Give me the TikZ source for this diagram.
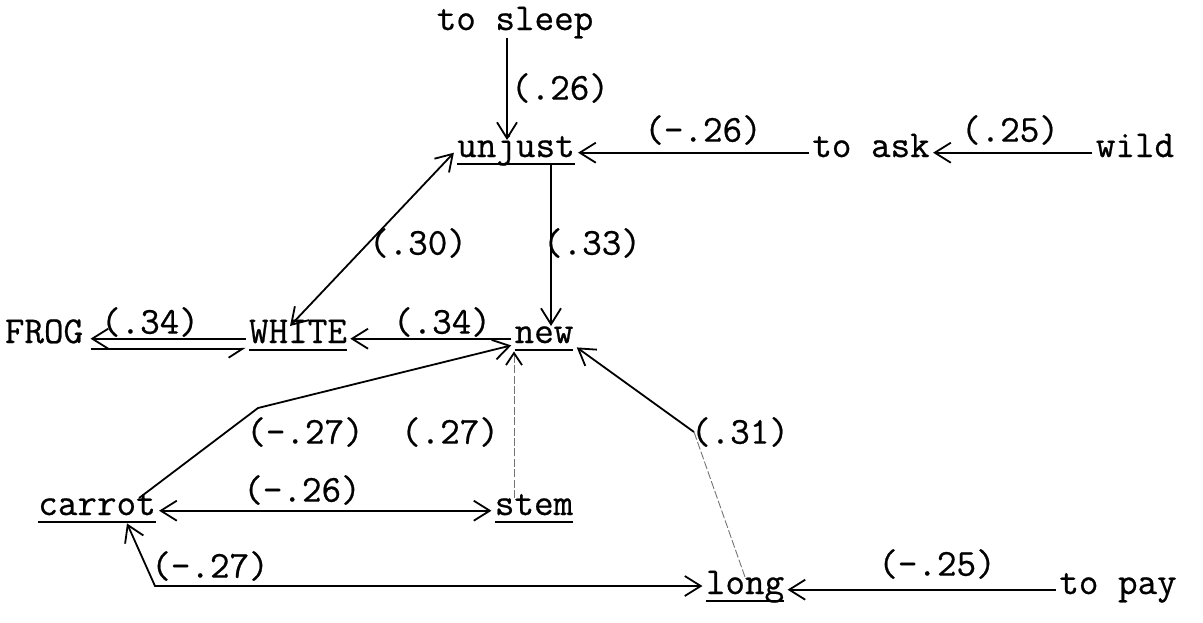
\documentclass[tikz,border=0pt]{standalone}
\usepackage{fontspec}
\setmonofont{Latin Modern Mono}[FakeBold=0.6]
\usetikzlibrary{arrows.meta,calc}
% underline at a fixed depth below the baseline, as a typewriter would strike it
\newcommand{\ulword}[1]{{\setbox0\hbox{#1}\rlap{\rule[-0.22em]{\wd0}{0.05em}}\box0}}
\tikzset{
  word/.style={font=\fontsize{19}{22}\selectfont\ttfamily, inner sep=1.5pt,
               text height=0.68em, text depth=0.25em, anchor=base},
  weight/.style={font=\fontsize{19}{22}\selectfont\ttfamily, inner sep=0pt},
  link/.style={line width=0.9pt, -{Straight Barb[length=8pt,width=10pt,line width=0.9pt]}},
  both/.style={line width=0.9pt, {Straight Barb[length=8pt,width=10pt,line width=0.9pt]}-{Straight Barb[length=8pt,width=10pt,line width=0.9pt]}},
  hook/.style={line width=0.9pt, -{Straight Barb[harpoon,swap,length=7pt,width=9pt,line width=0.9pt]}},
  faint/.style={line width=0.45pt, black!55, dash pattern=on 4pt off 1.2pt},
  faintlink/.style={faint, -{Straight Barb[length=6pt,width=8pt,line width=0.9pt,color=black]}},
}
\begin{document}
\begin{tikzpicture}[x=0.5pt,y=-0.5pt]
\useasboundingbox (0,0) rectangle (1203,622);

% words
\node[word] (sleep)  at (515,30)   {to sleep};
\node[word] (unjust) at (516,157)  {\ulword{unjust}};
\node[word] (ask)    at (871,157)  {to ask};
\node[word] (wild)   at (1135,157) {wild};
\node[word] (frog)   at (44,343)   {FROG};
\node[word] (white)  at (298,343)  {\ulword{WHITE}};
\node[word] (new)    at (544,343)  {\ulword{new}};
\node[word] (carrot) at (97,515)   {\ulword{carrot}};
\node[word] (stem)   at (534,515)  {\ulword{stem}};
\node[word] (long)   at (745,594)  {\ulword{long}};
\node[word] (pay)    at (1118,594) {to pay};

% correlation weights
\node[weight] (w1)  at (560,88)   {(.26)};
\node[weight] (w2)  at (703,130)  {(-.26)};
\node[weight] (w3)  at (1010,130) {(.25)};
\node[weight] (w4)  at (418,243)  {(.30)};
\node[weight] (w5)  at (592,243)  {(.33)};
\node[weight] (w6)  at (150,322)  {(.34)};
\node[weight] (w7)  at (442,322)  {(.34)};
\node[weight] (w8)  at (305,432)  {(-.27)};
\node[weight] (w9)  at (450,432)  {(.27)};
\node[weight] (w10) at (740,432)  {(.31)};
\node[weight] (w11) at (302,490)  {(-.26)};
\node[weight] (w12) at (210,566)  {(-.27)};
\node[weight] (w13) at (937,564)  {(-.25)};

% bend points
\coordinate (b1) at (258,408);
\coordinate (b2) at (694,432);
\coordinate (b3) at (155,586);

% connectors
\draw[link] ([xshift=-4pt]sleep.south) -- ([xshift=-4pt]sleep.south |- unjust.north);
\draw[link] (ask.west) -- (unjust.east);
\draw[link] (wild.west) -- (ask.east);
\draw[link] ([xshift=17.5pt]unjust.south) -- ([xshift=17.5pt]unjust.south |- new.north);
\draw[both] ([xshift=-4pt]white.north) -- (unjust.west);
\draw[link] (new.west) -- (white.east);
\draw[link] (white.west) -- ([xshift=2pt]frog.east);
\draw[hook] ([xshift=2pt,yshift=-5pt]frog.east) -- ([yshift=-5pt]white.west);
\draw[link] ([xshift=-10pt]carrot.north east) -- (b1) -- ([yshift=3pt]new.south west);
\draw[faintlink] ([xshift=-10pt]stem.north) -- ([xshift=-10pt]stem.north |- new.south);
\draw[faint] (long.north) -- (b2);
\draw[link] (b2) -- ([yshift=2pt]new.south east);
\draw[both] (carrot.east) -- (stem.west);
\draw[both] ([xshift=15pt]carrot.south) -- (b3) -- (b3 -| long.west);
\draw[link] (pay.west) -- (long.east);
\end{tikzpicture}
\end{document}
